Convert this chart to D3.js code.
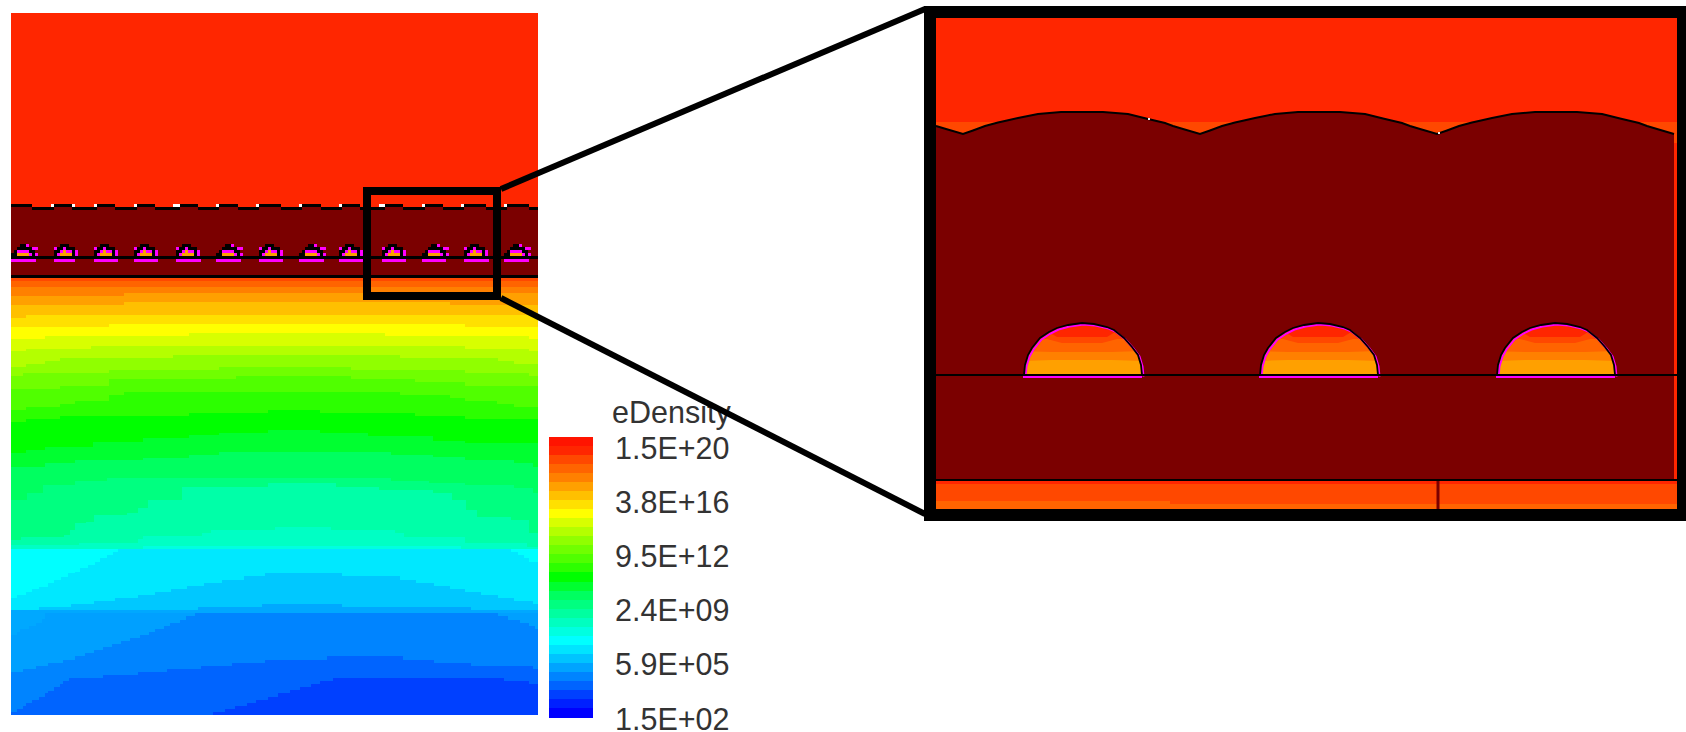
<!DOCTYPE html>
<html>
<head>
<meta charset="utf-8">
<script src="https://cdn.jsdelivr.net/npm/d3@7"></script>
<style>html,body{margin:0;padding:0;background:#fff;overflow:hidden}svg{display:block}</style>
</head>
<body>
<svg id="chart" width="1686" height="732"></svg>
<script>
// ---------- legend ----------
const legendTitle = "eDensity";
const legendTicks = [1.5e20, 3.8e16, 9.5e12, 2.4e9, 5.9e5, 1.5e2];
const legendTickLabels = ["1.5E+20","3.8E+16","9.5E+12","2.4E+09","5.9E+05","1.5E+02"];
const legendColors = ["#ff1400","#ff2600","#ff4800","#ff6400","#ff8000","#ffa000","#ffc000","#ffe000","#ffff00",
  "#d8ff00","#b4ff00","#90ff00","#70ff00","#50ff00","#2cff00","#00ff00","#00ff30","#00ff60","#00ff80","#00ffa0",
  "#00ffc0","#00ffe0","#00ffff","#00e4ff","#00c4ff","#00a4ff","#0084ff","#0064ff","#0040ff","#0020ff","#0000ff"];

// ---------- substrate contours of the full device: [grid x, grid depth] where each level starts ----------
const c01=[[31,24]];
const c02=[[31,33]];
const c03=[[31,51]];
const c04=[[31,78],[347,69]];
const c05=[[31,105],[347,96],[1258,105]];
const c06=[[31,143],[72,135]];
const c07=[[31,171],[305,162],[1300,171]];
const c08=[[31,207],[125,198],[530,189],[1078,198],[1480,207]];
const c09=[[31,243],[72,237],[255,228],[1300,237],[1480,243]];
const c10=[[31,290],[72,282],[125,273],[168,264],[485,255],[1120,264],[1393,273],[1437,282]];
const c11=[[31,318],[65,309],[305,300],[613,291],[983,300],[1300,309],[1480,318]];
const c12=[[31,357],[168,348],[305,327],[660,318],[983,327],[1160,336],[1300,348]];
const c13=[[31,420],[72,410],[168,402],[210,393],[305,375],[347,366],[1120,375],[1258,384],[1300,393],[1390,402],[1437,410]];
const c14=[[31,456],[72,447],[168,438],[530,430],[750,420],[895,430],[1160,438],[1300,447]];
const c15=[[31,550],[72,540],[125,530],[260,515],[400,505],[530,495],[612,490],[750,480],[895,490],[1030,497],[1210,512],[1300,520]];
const c16=[[31,590],[125,580],[210,570],[400,565],[530,555],[612,545],[1095,555],[1210,562],[1300,570],[1437,580],[1490,590]];
const c17=[[31,690],[75,670],[120,645],[210,632],[300,625],[1095,632],[1200,640],[1300,645],[1437,655],[1490,670]];
const c18=[[31,810],[60,800],[180,795],[195,780],[210,760],[240,755],[262,735],[355,730],[385,715],[415,690],[510,650],[750,640],[940,650],[1060,660],[1210,670],[1265,690],[1305,720],[1335,740],[1430,750],[1480,790]];
const c19=[[31,825],[220,818],[385,808],[400,798],[565,790],[590,780],[770,770],[925,780],[1105,790],[1130,800],[1300,820],[1475,830]];
const c20=[[31,838],[400,828],[1290,838]];
const c21=[[31,838]];
const c22=[[31,985],[48,975],[72,967],[90,958],[110,950],[135,940],[150,930],[170,920],[190,910],[210,905],[225,895],[245,885],[265,875],[280,865],[300,855],[315,845],[330,838],[1430,845],[1450,855],[1465,865],[1480,875]];
const c23=[[31,1020],[110,1012],[200,1003],[262,993],[322,984],[385,975],[435,966],[478,957],[522,948],[572,939],[622,930],[683,919],[742,909],[958,918],[1120,930],[1163,940],[1215,948],[1258,957],[1300,966],[1345,975],[1393,984],[1437,993],[1490,1002]];
const c24=[[31,1020],[555,1012],[733,1003],[958,1012],[1318,1020]];
const c25=[[31,1095],[48,1085],[57,1077],[80,1068],[100,1058],[118,1048],[127,1029]];
const c26=[[31,1205],[65,1197],[100,1188],[135,1179],[177,1170],[210,1158],[238,1149],[263,1140],[288,1131],[314,1122],[338,1113],[363,1104],[392,1095],[417,1086],[433,1077],[458,1068],[476,1059],[505,1050],[520,1038],[545,1029],[1393,1038],[1420,1050],[1455,1059],[1480,1068],[1498,1077]];
const c27=[[31,1326],[48,1317],[65,1308],[72,1299],[90,1290],[108,1280],[125,1270],[135,1262],[150,1250],[168,1242],[177,1233],[193,1224],[288,1215],[385,1206],[468,1197],[563,1188],[650,1179],[742,1170],[916,1158],[1128,1170],[1215,1179],[1318,1188],[1490,1197]];
const c28=[[31,1340],[595,1326],[630,1317],[658,1308],[692,1299],[717,1290],[750,1280],[778,1268],[812,1260],[838,1250],[870,1242],[896,1233],[932,1224],[1411,1233],[1481,1242]];
const substrateContours=[c01,c02,c03,c04,c05,c06,c07,c08,c09,c10,c11,c12,c13,c14,c15,c16,c17,c18,c19,c20,c21,c22,c23,c24,c25,c26,c27,c28];
const substrateColors=["#ff4800","#ff6400","#ff8000","#ffa000","#ffc000","#ffe000","#ffff00","#d8ff00","#b4ff00","#90ff00","#70ff00","#50ff00","#2cff00","#00ff00","#00ff30","#00ff60","#00ff80","#00ffa8","#00ffc4","#00ffe0","#00ffff","#00e8ff","#00c8ff","#00a8ff","#00a0ff","#0084ff","#0064ff","#0040ff"];

// ---------- full device layers ----------
const colorGate="#ff2600", colorOxide="#7b0000", colorMagenta="#ff00ff", colorOrange="#ffa000";
const gateSteps=[[0,191],[21,194],[43,191],[61,194],[86,191],[104,194],[126,191],[144,194],[169,191],[187,194],[208,191],[227,194],[248,191],[270,194],[291,191],[310,194],[331,191],[349,194],[374,191],[392,194],[414,191],[432,194],[453,191],[475,194],[496,191],[518,194],[527,194]];
const gateSpecks=[[40,3],[61,3],[83,3],[123,3],[162,7],[205,3],[245,3],[288,3],[328,3],[368,6],[411,3],[450,3],[493,3]];
const nanocrystalLefts=[0,43,83,123,165,205,248,288,328,371,411,453,493];
const nanocrystalBars=[25,21,24,24,25,25,24,25,24,24,24,25,25];
const nanocrystalKinds=["B","A","A","A","A","B","A","B","A","A","B","A","B"];
const patternA=["..kkk.....","mkkmkkk...","kkmommkm..","kmooookm.."];
const patternB=["...kkm....","..kkkkkmm.",".kmmmmkk..","kkoooomkm."];
const layerLineDepths=[244.5,263.5];
const insetBox=[356,178,486,283];
const connectorTop=[[490,176],[914,-4]];
const connectorBottom=[[490,285],[914,501]];

// ---------- inset (zoomed) ----------
const cuspX=[-209,28,265,502,742];
const profileDx=[0,10,22,35,44,55,65,75,98,140,165,173,183,202,210,220,237];
const profileY=[116,112.5,108,104.5,102.5,100,98,96,94,94,96,98,100.5,105,108,111,116];
const wedgeTop=104;
const insetSpecks=[[213,100],[503,114]];
const domeCenters=[147,383,620];
const domeBaseY=357, bottomLineY=462, stripTop=463, stripBottom=491;
const domeOutline=[[-58,0],[-57,10],[-54,20],[-50,27],[-42,37],[-33,43],[-25,47],[-14,50],[0,52],[12,51],[25,48],[32,45],[42,37],[50,28],[56,20],[59,10],[60,0]];
const domeBand1=[[-62,50],[-35,44],[-25,38],[25,38],[35,44],[62,50]];
const domeBand2=[[-62,36],[-35,36],[-20,32],[20,32],[35,36],[62,36]];
const domeBand3=[[-62,24],[-30,23],[30,23],[62,24]];
const domeBand4=[[-62,14],[-30,15],[30,15],[62,14]];
const domeBands=[domeBand1,domeBand2,domeBand3,domeBand4];
const domeColors=["#ff4800","#ff6400","#ff8000","#ffa000"];
const stripTopBand=[[0,466],[742,466]];
const stripLowBand=[[0,483],[235,486],[742,490]];
const dividerX=503;

// ---------- scales ----------
const svg=d3.select("#chart");
const defs=svg.append("defs");
const gx=d3.scaleLinear().domain([31,1505]).range([11,538]);      // substrate grid
const gy=d3.scaleLinear().domain([-771,1335]).range([13,715]);
const px=d3.scaleLinear().domain([0,527]).range([11,538]);        // device panel
const py=d3.scaleLinear().domain([0,702]).range([13,715]);
const rx=d3.scaleLinear().domain([0,742]).range([935,1677]);      // inset
const ry=d3.scaleLinear().domain([0,491]).range([18,509]);

// ---------- left panel ----------
defs.append("clipPath").attr("id","leftClip").append("rect")
  .attr("x",px(0)).attr("y",py(0)).attr("width",px(527)-px(0)).attr("height",py(702)-py(0));
const left=svg.append("g").attr("clip-path","url(#leftClip)").attr("shape-rendering","crispEdges");
left.append("rect").attr("x",px(0)).attr("y",py(0)).attr("width",px(527)-px(0)).attr("height",py(702)-py(0)).attr("fill",colorGate);

const lineThickness=3;
const gateArea=d3.area().x(d=>px(d[0])).y0(py(270)).y1(d=>py(d[1]+lineThickness)).curve(d3.curveStepAfter);
left.append("path").datum(gateSteps).attr("d",gateArea).attr("fill",colorOxide);
left.selectAll("rect.gateseg").data(gateSteps.slice(0,-1)).join("rect").attr("class","gateseg")
  .attr("x",d=>px(d[0])).attr("y",d=>py(d[1])).attr("height",lineThickness)
  .attr("width",(d,i)=>px(gateSteps[i+1][0])-px(d[0])).attr("fill","#000");
left.selectAll("rect.speck").data(gateSpecks).join("rect").attr("class","speck")
  .attr("x",d=>px(d[0])).attr("y",py(191)).attr("width",d=>d[1]).attr("height",lineThickness).attr("fill","#fff");

const bandArea=d3.area().x(d=>gx(d[0])).y0(gy(1400)).y1(d=>gy(d[1])).curve(d3.curveStepAfter);
left.append("rect").attr("x",px(0)).attr("y",py(262)).attr("width",px(527)-px(0)).attr("height",py(702)-py(262)).attr("fill",substrateColors[0]);
left.selectAll("path.band").data(substrateContours).join("path").attr("class","band")
  .attr("fill",(d,i)=>substrateColors[i])
  .attr("d",d=>bandArea(d.concat([[1510,d[d.length-1][1]]])));

const cellColor={k:"#000",m:colorMagenta,o:colorOrange};
const cellPx=3;
nanocrystalLefts.forEach((l,n)=>{
  const pat=nanocrystalKinds[n]==="A"?patternA:patternB;
  pat.forEach((row,r)=>{
    row.split("").forEach((c,col)=>{
      if(c===".")return;
      left.append("rect").attr("x",px(l+col*cellPx)).attr("y",py(231+r*cellPx))
        .attr("width",cellPx).attr("height",cellPx).attr("fill",cellColor[c]);
    });
  });
  left.append("rect").attr("x",px(l)).attr("y",py(246)).attr("width",nanocrystalBars[n]).attr("height",3).attr("fill",colorMagenta);
});
left.selectAll("line.layer").data(layerLineDepths).join("line").attr("class","layer")
  .attr("x1",px(0)).attr("x2",px(527)).attr("y1",d=>py(d)).attr("y2",d=>py(d))
  .attr("stroke","#000").attr("stroke-width",lineThickness);

// ---------- legend ----------
const ly=d3.scaleBand().domain(d3.range(legendColors.length)).range([437,717]);
svg.append("g").attr("shape-rendering","crispEdges").selectAll("rect").data(legendColors).join("rect")
  .attr("x",549).attr("width",44).attr("y",(d,i)=>ly(i)).attr("height",ly.bandwidth()+0.5).attr("fill",d=>d);
const tickScale=d3.scaleLog().domain([1.5e2,1.5e20]).range([729,458]);
const axisG=svg.append("g").attr("transform","translate(729.5,0)")
  .call(d3.axisRight(tickScale).tickValues(legendTicks).tickSize(0).tickPadding(0)
    .tickFormat((d,i)=>legendTickLabels[i]));
axisG.select(".domain").remove();
axisG.selectAll("text").attr("text-anchor","end").attr("dy",0).attr("x",0)
  .attr("font-family","'Liberation Sans',Arial,sans-serif").attr("font-size",30.5).attr("fill","#333");
svg.append("text").text(legendTitle).attr("x",612).attr("y",423)
  .attr("font-family","'Liberation Sans',Arial,sans-serif").attr("font-size",30.5).attr("fill","#333");

// ---------- inset ----------
defs.append("clipPath").attr("id","insetClip").append("rect")
  .attr("x",rx(0)).attr("y",ry(0)).attr("width",rx(742)-rx(0)).attr("height",ry(491)-ry(0));
const inset=svg.append("g").attr("clip-path","url(#insetClip)");
inset.append("rect").attr("x",rx(0)).attr("y",ry(0)).attr("width",rx(742)-rx(0)).attr("height",ry(491)-ry(0)).attr("fill",colorGate);
inset.append("rect").attr("x",rx(0)).attr("y",ry(wedgeTop)).attr("width",rx(742)-rx(0)).attr("height",ry(125)-ry(wedgeTop)).attr("fill","#ff4800");

const profile=cuspX.slice(0,-1).flatMap(c=>profileDx.map((dx,i)=>[c+dx,profileY[i]]));
inset.append("path").datum(profile).attr("fill",colorOxide)
  .attr("d",d3.area().x(d=>rx(d[0])).y0(ry(stripTop)).y1(d=>ry(d[1])));
inset.append("path").datum(profile).attr("fill","none").attr("stroke","#000").attr("stroke-width",2)
  .attr("d",d3.line().x(d=>rx(d[0])).y(d=>ry(d[1])));
inset.selectAll("rect.speck").data(insetSpecks).join("rect").attr("class","speck")
  .attr("x",d=>rx(d[0])).attr("y",d=>ry(d[1])).attr("width",2).attr("height",2).attr("fill","#eee");

const domeY=h=>ry(domeBaseY-h);
domeCenters.forEach((c,i)=>{
  const outline=d3.line().x(d=>rx(c+d[0])).y(d=>domeY(d[1]));
  defs.append("clipPath").attr("id","dome"+i).append("path").attr("d",outline(domeOutline)+"Z");
  const g=inset.append("g").attr("clip-path","url(#dome"+i+")");
  g.append("rect").attr("x",rx(c-65)).attr("width",rx(130)-rx(0)).attr("y",domeY(60)).attr("height",domeY(0)-domeY(60)).attr("fill",colorGate);
  domeBands.forEach((b,j)=>{
    g.append("path").datum(b).attr("fill",domeColors[j])
      .attr("d",d3.area().x(d=>rx(c+d[0])).y0(domeY(0)).y1(d=>domeY(d[1])));
  });
  inset.append("path").attr("d",outline(domeOutline)).attr("fill","none").attr("stroke",colorMagenta).attr("stroke-width",2)
    .attr("transform","translate(1.5,1.5)");
  inset.append("path").attr("d",outline(domeOutline)).attr("fill","none").attr("stroke","#000").attr("stroke-width",1.8);
});
inset.append("line").attr("x1",rx(0)).attr("x2",rx(742)).attr("y1",ry(domeBaseY)).attr("y2",ry(domeBaseY)).attr("stroke","#000").attr("stroke-width",2);
domeCenters.forEach(c=>{
  inset.append("line").attr("x1",rx(c-59)).attr("x2",rx(c+60)).attr("y1",ry(domeBaseY+2)).attr("y2",ry(domeBaseY+2)).attr("stroke",colorMagenta).attr("stroke-width",2);
});
// bottom strip
inset.append("rect").attr("x",rx(0)).attr("width",rx(742)-rx(0)).attr("y",ry(stripTop)).attr("height",ry(stripBottom)-ry(stripTop)).attr("fill",colorGate);
inset.append("path").datum(stripTopBand).attr("fill","#ff4800")
  .attr("d",d3.area().x(d=>rx(d[0])).y0(ry(stripBottom)).y1(d=>ry(d[1])));
inset.append("path").datum(stripLowBand).attr("fill","#ff6400")
  .attr("d",d3.area().x(d=>rx(d[0])).y0(ry(stripBottom)).y1(d=>ry(d[1])).curve(d3.curveStepAfter));
inset.append("line").attr("x1",rx(0)).attr("x2",rx(742)).attr("y1",ry(bottomLineY)).attr("y2",ry(bottomLineY)).attr("stroke","#000").attr("stroke-width",2);
inset.append("line").attr("x1",rx(dividerX)).attr("x2",rx(dividerX)).attr("y1",ry(stripTop)).attr("y2",ry(stripBottom)).attr("stroke",colorOxide).attr("stroke-width",3);

// ---------- frame, box, connectors ----------
svg.append("rect").attr("x",rx(-5)).attr("y",ry(-6)).attr("width",rx(748)-rx(-5)).attr("height",ry(497)-ry(-6))
  .attr("fill","none").attr("stroke","#000").attr("stroke-width",12);
svg.append("rect").attr("x",px(insetBox[0])).attr("y",py(insetBox[1]))
  .attr("width",px(insetBox[2])-px(insetBox[0])).attr("height",py(insetBox[3])-py(insetBox[1]))
  .attr("fill","none").attr("stroke","#000").attr("stroke-width",8);
const connector=d3.line().x(d=>px(d[0])).y(d=>py(d[1]));
[connectorTop,connectorBottom].forEach(c=>{
  svg.append("path").attr("d",connector(c)).attr("fill","none").attr("stroke","#000").attr("stroke-width",6);
});
</script>
</body>
</html>
